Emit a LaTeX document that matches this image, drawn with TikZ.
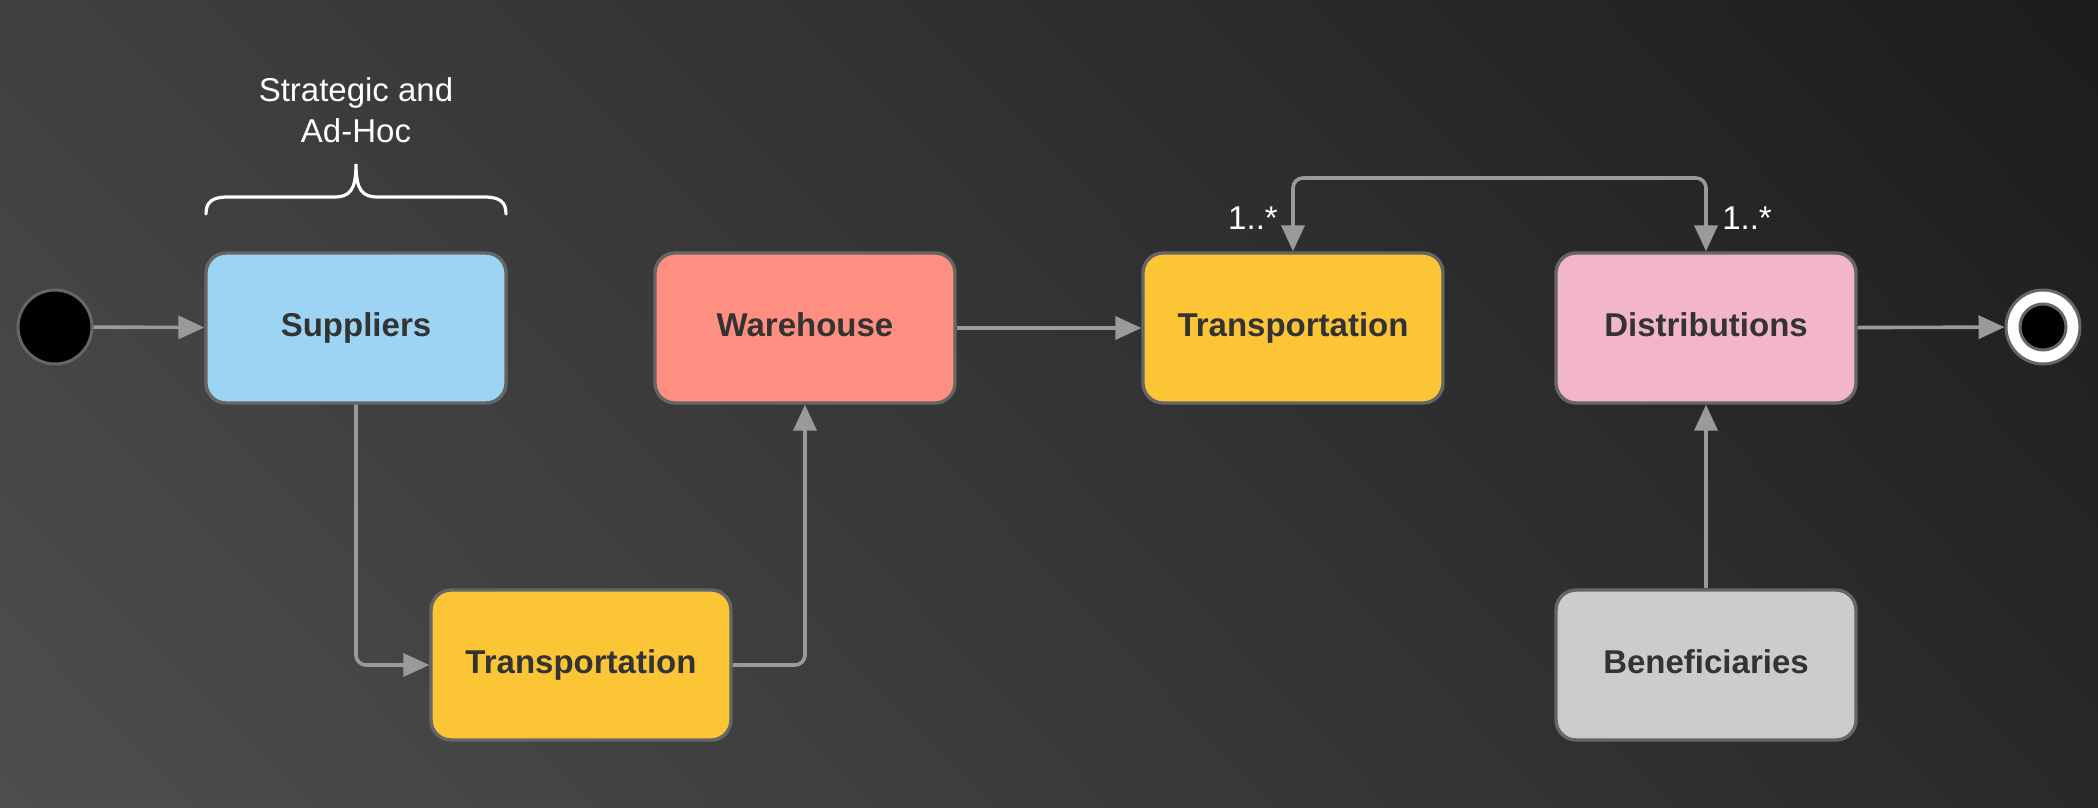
\documentclass[tikz,border=0pt]{standalone}
\usepackage{fontspec}
\setmainfont{Liberation Sans}
\usetikzlibrary{arrows.meta,shadings}
\definecolor{bgTL}{HTML}{404040}
\definecolor{bgBL}{HTML}{4E4E4E}
\definecolor{bgTR}{HTML}{1C1C1C}
\definecolor{bgBR}{HTML}{292929}
\definecolor{boxline}{HTML}{666666}
\definecolor{conn}{HTML}{9A9A9A}
\definecolor{txt}{HTML}{333333}
\definecolor{cBlue}{HTML}{9DD4F3}
\definecolor{cRed}{HTML}{FF8F80}
\definecolor{cYellow}{HTML}{FBC536}
\definecolor{cPink}{HTML}{F3B5C8}
\definecolor{cGray}{HTML}{CCCCCC}
\tikzset{
  statebox/.style={draw=boxline, line width=1.7pt, rounded corners=10pt,
    minimum width=150pt, minimum height=75pt, inner sep=0pt,
    text height=12pt, text depth=4pt,
    font=\fontsize{16.5}{20}\selectfont\bfseries, text=txt},
  tipA/.style={},
  conn/.style={draw=conn, line width=1.8pt, rounded corners=5pt,
    -{Triangle[length=13pt,width=11.5pt]}},
  lbl/.style={text=white, font=\fontsize{16.5}{20.5}\selectfont, align=center, inner sep=0pt}
}
\begin{document}
\begin{tikzpicture}[x=0.5pt, y=-0.5pt]
\shade[upper left=bgTL, lower left=bgBL, upper right=bgTR, lower right=bgBR]
  (0,0) rectangle (2098,808);
\useasboundingbox (0,0) rectangle (2098,808);

% nodes
\node[circle, fill=black, draw=boxline, line width=1.5pt, minimum size=37pt, inner sep=0pt] (start) at (55,327) {};
\node[statebox, fill=cBlue] (sup) at (356,328) {Suppliers};
\node[statebox, fill=cRed] (wh) at (805,328) {Warehouse};
\node[statebox, fill=cYellow] (tr1) at (1293,328) {Transportation};
\node[statebox, fill=cPink] (dist) at (1706,328) {Distributions};
\node[statebox, fill=cYellow] (tr2) at (581,665) {Transportation};
\node[statebox, fill=cGray] (ben) at (1706,665) {Beneficiaries};
\node[circle, fill=white, draw=boxline, line width=1.5pt, minimum size=37pt, inner sep=0pt] (end) at (2043,327) {};
\node[circle, fill=black, draw=boxline, line width=1.5pt, minimum size=23pt, inner sep=0pt] (endin) at (2043,327) {};

% labels
\node[lbl] (strat) at (356,110) {Strategic and\\Ad-Hoc};
\node[lbl] (m1) at (1253,218) {1..*};
\node[lbl] (m2) at (1747,218) {1..*};

% brace
\draw[white, line width=1.6pt, line cap=round]
  (206,214) .. controls (206,202) and (212,197) .. (228,197) -- (334,197)
  .. controls (350,197) and (356,190) .. (356,164)
  .. controls (356,190) and (362,197) .. (378,197) -- (484,197)
  .. controls (500,197) and (506,202) .. (506,214);

% connectors
\draw[conn] (start) -- (sup);
\draw[conn] (sup.south) |- (tr2.west);
\draw[conn] (tr2.east) -| (wh.south);
\draw[conn] (wh) -- (tr1);
\draw[conn] (dist) -- (end);
\draw[conn] (ben) -- (dist);
\coordinate (tl) at (1293,178);
\coordinate (tr) at (1706,178);
\draw[draw=conn, line width=1.8pt, rounded corners=5pt,
  {Triangle[length=13pt,width=11.5pt]}-{Triangle[length=13pt,width=11.5pt]}]
  (tr1.north) -- (tl) -- (tr) -- (dist.north);
\end{tikzpicture}
\end{document}
